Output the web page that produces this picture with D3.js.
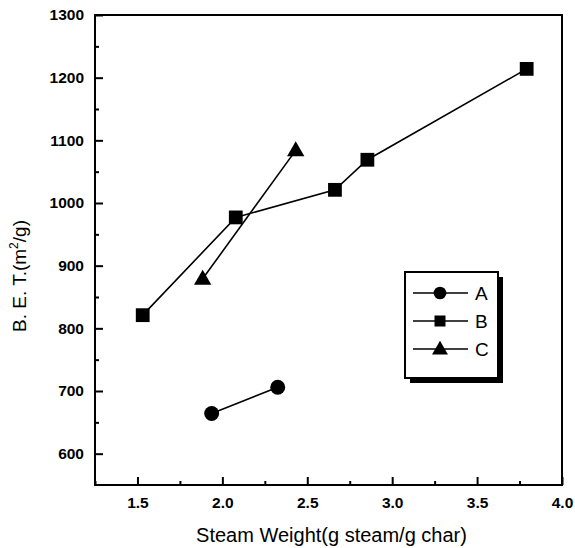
<!DOCTYPE html>
<html>
<head>
<meta charset="utf-8">
<script src="https://cdn.jsdelivr.net/npm/d3@7"></script>
<style>
  html, body { margin: 0; padding: 0; background: #fff; }
  svg { display: block; font-family: "Liberation Sans", Arial, sans-serif; }
</style>
</head>
<body>
<svg id="chart" width="575" height="548"></svg>
<script>
// ---- data ----
const seriesNames = ["A", "B", "C"];
const seriesA_x = [1.937, 2.326];
const seriesA_y = [664, 706];
const seriesB_x = [1.531, 2.079, 2.663, 2.854, 3.792];
const seriesB_y = [821, 977, 1021, 1069, 1214];
const seriesC_x = [1.884, 2.432];
const seriesC_y = [879, 1084];
const xTicks = [1.5, 2.0, 2.5, 3.0, 3.5, 4.0];
const xMinorTicks = [1.25, 1.75, 2.25, 2.75, 3.25, 3.75];
const yTicks = [600, 700, 800, 900, 1000, 1100, 1200, 1300];
const yMinorTicks = [650, 750, 850, 950, 1050, 1150, 1250];
const xTitle = "Steam Weight(g steam/g char)";

const series = [
  { name: "A", xs: seriesA_x, ys: seriesA_y, symbol: d3.symbolCircle },
  { name: "B", xs: seriesB_x, ys: seriesB_y, symbol: d3.symbolSquare },
  { name: "C", xs: seriesC_x, ys: seriesC_y, symbol: d3.symbolTriangle }
];

const svg = d3.select("#chart");
const pLeft = 95, pRight = 562, pTop = 15, pBottom = 485;

const x = d3.scaleLinear().domain([1.25, 4.0]).range([pLeft, pRight]);
const y = d3.scaleLinear().domain([550, 1300]).range([pBottom, pTop]);

// axes ticks (inward)
const xAxis = d3.axisBottom(x).tickValues(xTicks).tickSize(-8).tickPadding(12)
  .tickFormat(d3.format(".1f"));
const gx = svg.append("g").attr("transform", `translate(0,${pBottom})`).call(xAxis);
gx.select(".domain").remove();
gx.selectAll(".tick line").attr("stroke", "#000").attr("stroke-width", 2);
gx.selectAll(".tick text").attr("font-size", 15.5).attr("font-weight", "bold").attr("fill", "#000")
  .attr("dy", "0.71em");

const xMinor = d3.axisBottom(x).tickValues(xMinorTicks).tickSize(-4).tickFormat("");
const gxm = svg.append("g").attr("transform", `translate(0,${pBottom})`).call(xMinor);
gxm.select(".domain").remove();
gxm.selectAll(".tick line").attr("stroke", "#000").attr("stroke-width", 2);

const yAxis = d3.axisLeft(y).tickValues(yTicks).tickSize(-8).tickPadding(11)
  .tickFormat(d3.format("d"));
const gy = svg.append("g").attr("transform", `translate(${pLeft},0)`).call(yAxis);
gy.select(".domain").remove();
gy.selectAll(".tick line").attr("stroke", "#000").attr("stroke-width", 2);
gy.selectAll(".tick text").attr("font-size", 15.5).attr("font-weight", "bold").attr("fill", "#000");

const yMinor = d3.axisLeft(y).tickValues(yMinorTicks).tickSize(-4).tickFormat("");
const gym = svg.append("g").attr("transform", `translate(${pLeft},0)`).call(yMinor);
gym.select(".domain").remove();
gym.selectAll(".tick line").attr("stroke", "#000").attr("stroke-width", 2);

// frame
svg.append("rect").attr("x", pLeft).attr("y", pTop)
  .attr("width", pRight - pLeft).attr("height", pBottom - pTop)
  .attr("fill", "none").attr("stroke", "#000").attr("stroke-width", 2);

// lines and markers
const line = d3.line().x(d => x(d[0])).y(d => y(d[1]));
series.forEach(s => {
  const pts = s.xs.map((v, i) => [v, s.ys[i]]);
  svg.append("path").datum(pts).attr("d", line)
    .attr("fill", "none").attr("stroke", "#000").attr("stroke-width", 1.6);
  const size = s.symbol === d3.symbolTriangle ? 130 : (s.symbol === d3.symbolSquare ? 190 : 175);
  svg.selectAll(null).data(pts).enter().append("path")
    .attr("d", d3.symbol().type(s.symbol).size(size))
    .attr("transform", d => `translate(${x(d[0])},${y(d[1]) + (s.symbol === d3.symbolTriangle ? 1 : 0)})`)
    .attr("fill", "#000");
});

// axis titles
svg.append("text").attr("x", (pLeft + pRight) / 2 + 3).attr("y", 542)
  .attr("text-anchor", "middle").attr("font-size", 20).attr("fill", "#000")
  .text(xTitle);

const yt = svg.append("text").attr("transform", "translate(26,276) rotate(-90)")
  .attr("text-anchor", "middle").attr("font-size", 19).attr("fill", "#000");
yt.append("tspan").text("B. E. T.(m");
yt.append("tspan").attr("font-size", 12).attr("dy", -8).text("2");
yt.append("tspan").attr("dy", 8).text("/g)");

// legend
const lg = svg.append("g");
const lx = 405, ly = 272, lw = 93, lh = 106, sh = 5;
lg.append("rect").attr("x", lx + sh).attr("y", ly + sh).attr("width", lw).attr("height", lh).attr("fill", "#000");
lg.append("rect").attr("x", lx).attr("y", ly).attr("width", lw).attr("height", lh)
  .attr("fill", "#fff").attr("stroke", "#000").attr("stroke-width", 2);
const rowY = d3.scalePoint().domain(seriesNames).range([293, 349]);
series.forEach(s => {
  const yy = rowY(s.name);
  lg.append("line").attr("x1", 413).attr("x2", 468).attr("y1", yy).attr("y2", yy)
    .attr("stroke", "#000").attr("stroke-width", 1.6);
  const size = s.symbol === d3.symbolTriangle ? 110 : (s.symbol === d3.symbolSquare ? 121 : 127);
  lg.append("path").attr("d", d3.symbol().type(s.symbol).size(size))
    .attr("transform", `translate(440,${yy + (s.symbol === d3.symbolTriangle ? 1 : 0)})`).attr("fill", "#000");
  lg.append("text").attr("x", 475).attr("y", yy + 7).attr("font-size", 19).attr("fill", "#000").text(s.name);
});
</script>
</body>
</html>
